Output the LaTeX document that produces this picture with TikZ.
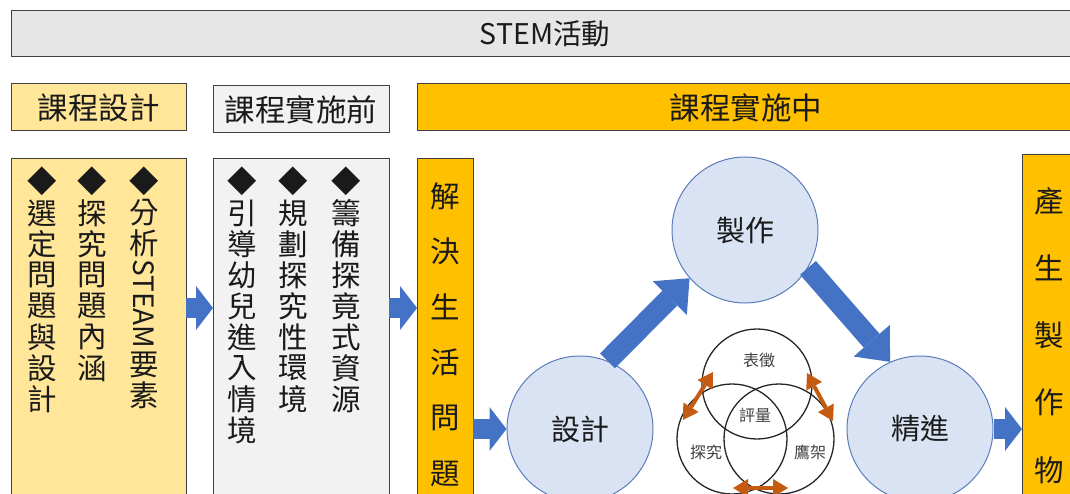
\documentclass[tikz,border=0pt]{standalone}
\usepackage{fontspec}
\setmainfont{Noto Sans CJK TC}
\usetikzlibrary{arrows.meta,calc}
\definecolor{barGray}{HTML}{E6E6E6}
\definecolor{ltYellow}{HTML}{FFE699}
\definecolor{ltGray}{HTML}{F2F2F2}
\definecolor{gold}{HTML}{FFC000}
\definecolor{blueArrow}{HTML}{4472C4}
\definecolor{circFill}{HTML}{DAE3F3}
\definecolor{circLine}{HTML}{5B7CBA}
\definecolor{rust}{HTML}{C55A11}
\definecolor{frameCol}{HTML}{404040}
\definecolor{txtCol}{HTML}{1A1A1A}
\definecolor{vennTxt}{HTML}{404040}
\begin{document}
\begin{tikzpicture}[x=1pt,y=-1pt,
  boxnode/.style={draw=frameCol, line width=1pt, inner sep=0pt, outer sep=0pt, text=txtCol},
  hdrfont/.style={font=\fontsize{30.5}{32}\selectfont},
  vch/.style={inner sep=0pt, text=txtCol, font=\fontsize{29.5}{31}\selectfont},
  bigcirc/.style={circle, draw=circLine, line width=1pt, fill=circFill, minimum size=146pt, inner sep=0pt, text=txtCol, font=\fontsize{29}{30}\selectfont},
  venn/.style={circle, draw=black!85, line width=1.3pt, minimum size=110pt, inner sep=0pt},
  vlabel/.style={inner sep=0pt, text=vennTxt, font=\fontsize{16}{18}\selectfont},
  flatarrow/.style={draw=blueArrow, line width=20pt, -{Triangle[length=17pt,width=44pt,line width=0pt]}},
  diagarrow/.style={draw=blueArrow, line width=21pt, -{Triangle[length=28pt,width=48pt,line width=0pt]}},
  rustarrow/.style={draw=rust, line width=4pt, {Triangle[length=15pt,width=18pt,line width=0pt]}-{Triangle[length=15pt,width=18pt,line width=0pt]}}
]
\useasboundingbox (0,0) rectangle (1070,494);
\clip (0,0) rectangle (1070,494);

% top bar and headers
\node[boxnode, fill=barGray, minimum width=1068pt, minimum height=46pt, font=\fontsize{28.5}{30}\selectfont] (stem) at (545,34) {STEM活動};
\node[boxnode, fill=ltYellow, minimum width=175pt, minimum height=47pt, hdrfont] (h1) at (98.5,107.5) {課程設計};
\node[boxnode, fill=ltGray, minimum width=176pt, minimum height=47pt, hdrfont] (h2) at (301,109.5) {課程實施前};
\node[boxnode, fill=gold, minimum width=658pt, minimum height=47pt, hdrfont] (h3) at (746,107.5) {課程實施中};

% long boxes
\node[boxnode, fill=ltYellow, minimum width=175pt, minimum height=400pt, anchor=north west] (b1) at (11,159) {};
\node[boxnode, fill=ltGray, minimum width=176pt, minimum height=400pt, anchor=north west] (b2) at (213,159) {};
\node[boxnode, fill=gold, minimum width=56pt, minimum height=400pt, anchor=north west] (b3) at (417,159) {};
\node[boxnode, fill=gold, minimum width=60pt, minimum height=400pt, anchor=north west] (b4) at (1022,155) {};

% diamonds
\foreach \xx [count=\i] in {42,92.5,144,242,293,346}
  \node[vch] (dm\i) at (\xx,181) {◆};

% column texts, box 1
\foreach \ch [count=\i] in {選,定,問,題,與,設,計}
  \node[vch] (ca\i) at (42,{213+(\i-1)*31}) {\ch};
\foreach \ch [count=\i] in {探,究,問,題,內,涵}
  \node[vch] (cb\i) at (92.5,{213+(\i-1)*31}) {\ch};
\node[vch] (cc1) at (144,213) {分};
\node[vch] (cc2) at (144,243) {析};
\node[vch, font=\fontsize{28}{30}\selectfont] (cc3) at (144,304) {\rotatebox{-90}{STEAM}};
\node[vch] (cc4) at (144,365) {要};
\node[vch] (cc5) at (144,395) {素};

% column texts, box 2
\foreach \ch [count=\i] in {引,導,幼,兒,進,入,情,境}
  \node[vch] (cd\i) at (242,{213+(\i-1)*31}) {\ch};
\foreach \ch [count=\i] in {規,劃,探,究,性,環,境}
  \node[vch] (ce\i) at (293,{213+(\i-1)*31}) {\ch};
\foreach \ch [count=\i] in {籌,備,探,竟,式,資,源}
  \node[vch] (cf\i) at (346,{213+(\i-1)*31}) {\ch};

% solve box text
\foreach \ch [count=\i] in {解,決,生,活,問,題}
  \node[vch] (cg\i) at (445,{196+(\i-1)*55.6}) {\ch};
% product box text
\foreach \ch [count=\i] in {產,生,製,作,物}
  \node[vch] (ch\i) at (1049,{201+(\i-1)*67.2}) {\ch};

% circles
\coordinate (designC) at (580,429);
\coordinate (makeC) at (745,230);
\coordinate (refineC) at (920,429);
\node[bigcirc] (design) at (designC) {設計};
\node[bigcirc] (make) at (makeC) {製作};
\node[bigcirc] (refine) at (refineC) {精進};

% blue arrows
\draw[flatarrow] ([yshift=-149pt]b1.north east) -- ([yshift=-149pt]b2.north west);
\draw[flatarrow] ([yshift=-149pt]b2.north east) -- ([yshift=-149pt]b3.north west);
\draw[flatarrow] (b3.east |- design.west) -- (design.west);
\draw[flatarrow] (refine.east) -- (refine.east -| b4.west);
\draw[diagarrow] (design.68) -- (make.221);
\draw[diagarrow] (make.-31) -- (refine.114);

% venn
\node[venn] (vtop) at (757,384) {};
\node[venn] (vleft) at (732,439) {};
\node[venn] (vright) at (779,439) {};
\node[vlabel] (l1) at (759,360) {表徵};
\node[vlabel] (l2) at (755,415) {評量};
\node[vlabel] (l3) at (706,452) {探究};
\node[vlabel] (l4) at (810,452) {鷹架};

% orange double arrows
\coordinate (o1a) at (713,372);
\coordinate (o1b) at (683,420);
\coordinate (o2a) at (807,373);
\coordinate (o2b) at (833,421);
\coordinate (o3a) at (733,488);
\coordinate (o3b) at (788,488);
\draw[rustarrow] (o1a) -- (o1b);
\draw[rustarrow] (o2a) -- (o2b);
\draw[rustarrow] (o3a) -- (o3b);
\end{tikzpicture}
\end{document}
